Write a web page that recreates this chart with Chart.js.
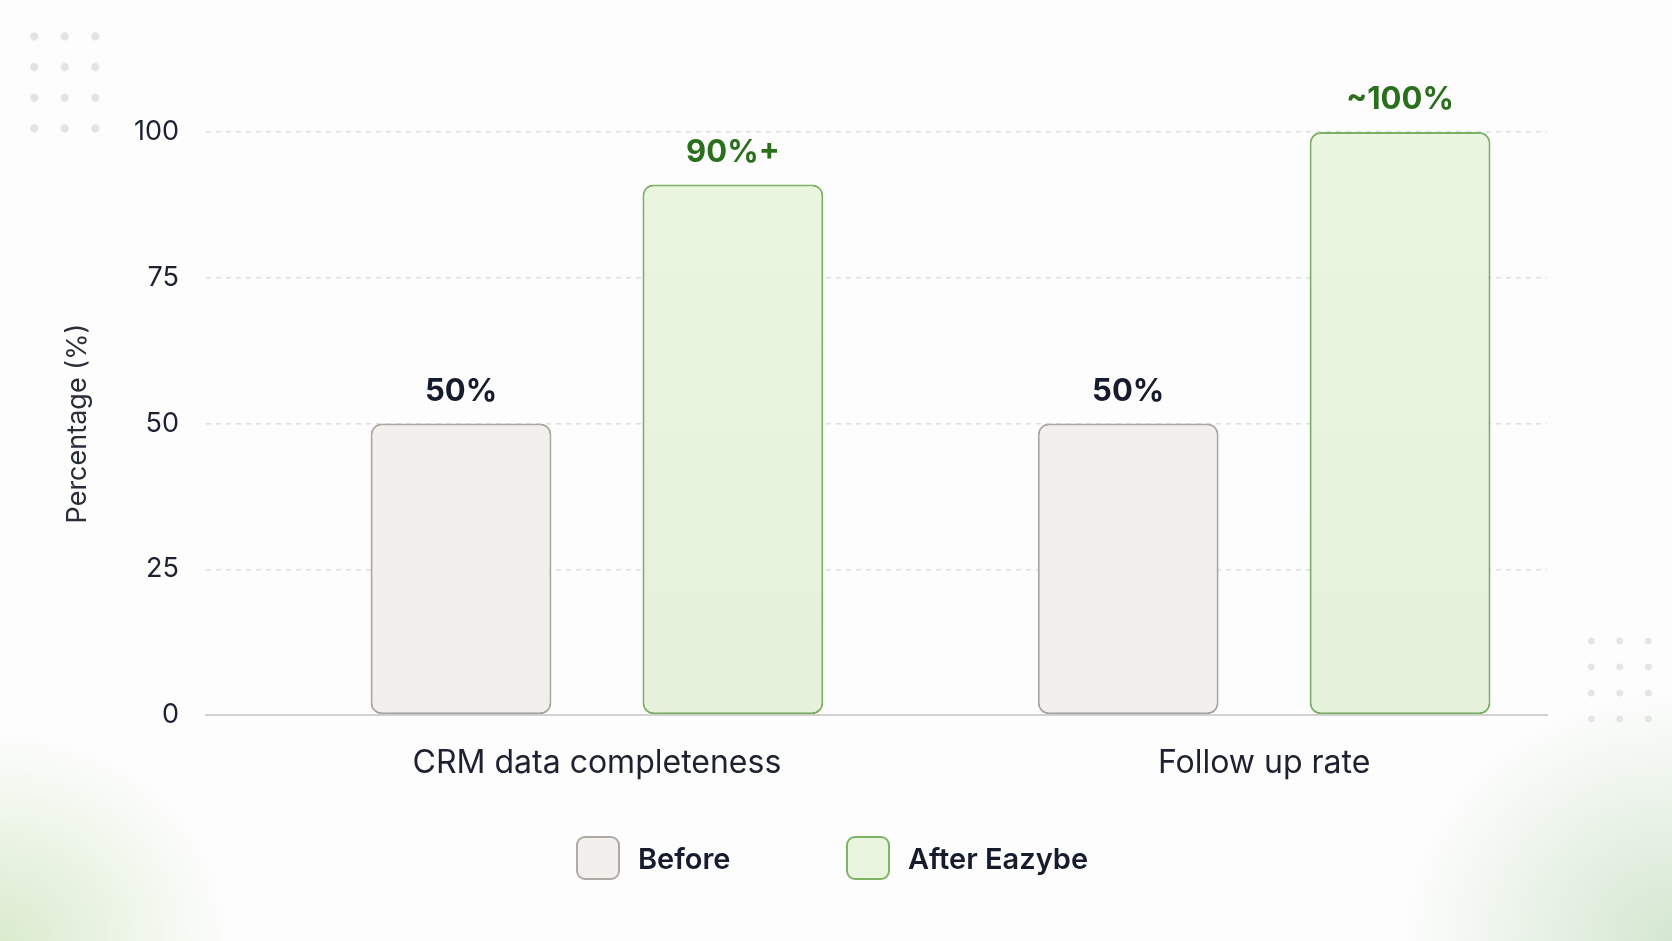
<!DOCTYPE html>
<html>
<head>
<meta charset="utf-8">
<script src="https://cdn.jsdelivr.net/npm/chart.js@4.4.1/dist/chart.umd.min.js"></script>
<style>
  body { margin: 0; background: #fff; }
  #wrap {
    position: relative;
    width: 1672px;
    height: 941px;
    overflow: hidden;
    background:
      radial-gradient(ellipse 230px 210px at 0% 100%, rgba(216, 234, 203, 0.95), rgba(255, 255, 255, 0) 100%),
      radial-gradient(ellipse 270px 250px at 100% 100%, rgba(210, 230, 206, 0.95), rgba(255, 255, 255, 0) 100%),
      #fdfdfd;
  }
  .dots {
    position: absolute;
    background-image: radial-gradient(circle, #e2e3e3 3.8px, rgba(255,255,255,0) 4.4px);
  }
  #dotsTop { left: 19px; top: 21px; width: 92px; height: 123px; background-size: 30.5px 30.7px; }
  #dotsRight {
    left: 1577px; top: 628px; width: 86px; height: 104px; background-size: 28.5px 26px;
    background-image: radial-gradient(circle, #e4e5e5 3.2px, rgba(255,255,255,0) 3.8px);
  }
  canvas { position: absolute; left: 0; top: 0; }
  .legend-item {
    position: absolute;
    top: 836px;
    display: flex;
    align-items: center;
    font-family: Inter, "Noto Sans", sans-serif;
    font-weight: 600;
    font-size: 29px;
    color: #161b2e;
  }
  .legend-box {
    width: 40px;
    height: 40px;
    border-radius: 9px;
    border: 2px solid;
    margin-right: 18px;
  }
</style>
</head>
<body>
<div id="wrap">
  <div class="dots" id="dotsTop"></div>
  <div class="dots" id="dotsRight"></div>
  <canvas id="chart" width="1672" height="941"></canvas>
  <div id="legend"></div>
</div>
<script>
const categories = ["CRM data completeness", "Follow up rate"];
const seriesNames = ["Before", "After Eazybe"];
const beforeValues = [50, 50];
const afterValues = [91, 100];
const beforeLabels = ["50%", "50%"];
const afterLabels = ["90%+", "~100%"];
const yTicks = [0, 25, 50, 75, 100];

const FONT = "Inter, 'Noto Sans', sans-serif";

const beforeFill = "#f2f0ec";
const beforeBorder = "#aeaba6";
const afterBorder = "#7fb366";
const labelColors = ["#161b2e", "#2a701c"];

function afterFill(context) {
  const chart = context.chart;
  const area = chart.chartArea;
  if (!area) return "#e8f4de";
  const g = chart.ctx.createLinearGradient(0, area.top, 0, area.bottom);
  g.addColorStop(0, "#ebf6e1");
  g.addColorStop(1, "#e5f1da");
  return g;
}

const valueLabels = {
  id: "valueLabels",
  afterDatasetsDraw(chart) {
    const ctx = chart.ctx;
    const texts = [beforeLabels, afterLabels];
    ctx.save();
    ctx.font = "700 31px " + FONT;
    ctx.textAlign = "center";
    ctx.textBaseline = "middle";
    chart.data.datasets.forEach((ds, i) => {
      const meta = chart.getDatasetMeta(i);
      ctx.fillStyle = labelColors[i];
      meta.data.forEach((bar, j) => {
        ctx.fillText(texts[i][j], bar.x, bar.y - 32);
      });
    });
    ctx.restore();
  }
};

const barShadow = {
  id: "barShadow",
  beforeDatasetsDraw(chart) {
    chart.ctx.save();
    chart.ctx.shadowColor = "rgba(0, 0, 0, 0.07)";
    chart.ctx.shadowBlur = 14;
    chart.ctx.shadowOffsetY = 5;
  },
  afterDatasetsDraw(chart) {
    chart.ctx.restore();
  }
};

const chart = new Chart(document.getElementById("chart"), {
  type: "bar",
  data: {
    datasets: [
      {
        label: seriesNames[0],
        data: beforeValues.map((v, i) => ({ x: i, y: v })),
        backgroundColor: beforeFill,
        borderColor: beforeBorder,
        borderWidth: 2,
        borderRadius: 11,
        borderSkipped: false,
        clip: false
      },
      {
        label: seriesNames[1],
        data: afterValues.map((v, i) => ({ x: i, y: v })),
        backgroundColor: afterFill,
        borderColor: afterBorder,
        borderWidth: 2,
        borderRadius: 11,
        borderSkipped: false,
        clip: false
      }
    ]
  },
  options: {
    responsive: false,
    animation: false,
    barPercentage: 0.665,
    categoryPercentage: 0.815,
    layout: { padding: { left: 62, right: 125, top: 132, bottom: 116 } },
    plugins: {
      legend: { display: false },
      tooltip: { enabled: false }
    },
    scales: {
      x: {
        type: "linear",
        offset: false,
        min: -0.586,
        max: 1.424,
        afterBuildTicks: s => { s.ticks = categories.map((c, i) => ({ value: i })); },
        afterFit: s => { s.height = 110; },
        grid: { display: false, drawTicks: false, offset: false },
        border: { display: true, color: "#d2d2d2", width: 2 },
        ticks: {
          padding: 29,
          color: "#1d2130",
          font: { family: FONT, size: 32 },
          callback: v => categories[v]
        }
      },
      y: {
        min: 0,
        max: 100,
        afterBuildTicks: s => { s.ticks = yTicks.map(v => ({ value: v })); },
        afterFit: s => { s.width = 144; },
        grid: {
          drawTicks: false,
          lineWidth: 1.5,
          color: c => (c.tick && c.tick.value === 0 ? "rgba(0,0,0,0)" : "#dedede")
        },
        border: { display: false, dash: [5, 5] },
        ticks: {
          padding: 27,
          color: "#1d2130",
          font: { family: FONT, size: 27 }
        },
        title: {
          display: true,
          text: "Percentage (%)",
          color: "#2a2e3a",
          padding: { top: 0, bottom: 0 },
          font: { family: FONT, size: 27 }
        }
      }
    }
  },
  plugins: [barShadow, valueLabels]
});

// legend in html, colours from the datasets
const legendLefts = [576, 846];
const legend = document.getElementById("legend");
chart.data.datasets.forEach((ds, i) => {
  const item = document.createElement("div");
  item.className = "legend-item";
  item.style.left = legendLefts[i] + "px";
  const box = document.createElement("div");
  box.className = "legend-box";
  box.style.background = i === 0 ? beforeFill : "#e9f5df";
  box.style.borderColor = ds.borderColor;
  const text = document.createElement("span");
  text.textContent = ds.label;
  item.appendChild(box);
  item.appendChild(text);
  legend.appendChild(item);
});
</script>
</body>
</html>
